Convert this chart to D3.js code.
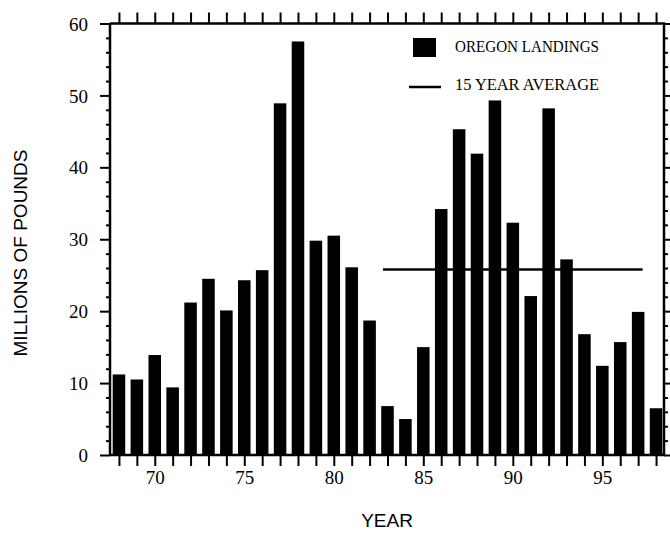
<!DOCTYPE html>
<html>
<head>
<meta charset="utf-8">
<script src="https://cdn.jsdelivr.net/npm/d3@7"></script>
<style>
  html, body { margin: 0; padding: 0; background: #fff; }
  svg { display: block; }
</style>
</head>
<body>
<svg id="chart" width="670" height="533"></svg>
<script>
// ---- Data ----
const years = [68,69,70,71,72,73,74,75,76,77,78,79,80,81,82,83,84,85,86,87,88,89,90,91,92,93,94,95,96,97,98];
const landings = [11.2,10.5,13.9,9.4,21.2,24.5,20.1,24.3,25.7,48.9,57.5,29.8,30.5,26.1,18.7,6.8,5.0,15.0,34.2,45.3,41.9,49.3,32.3,22.1,48.2,27.2,16.8,12.4,15.7,19.9,6.5];
const averageValue = [25.8];
const averageSpan = [82.75, 97.25];
const xTickLabels = [70, 75, 80, 85, 90, 95];
const yTickLabels = [0, 10, 20, 30, 40, 50, 60];
const legendLabels = ["OREGON LANDINGS", "15 YEAR AVERAGE"];

// ---- Layout ----
const svg = d3.select("#chart");
const L = 110, R = 664, T = 23.5, B = 455;
const x = d3.scaleLinear().domain([67.5, 98.5]).range([L, R + 1]);
const y = d3.scaleLinear().domain([0, 60]).range([B, T]);
const step = x(1) - x(0);
const bw = step * 0.7;

// Bars
svg.append("g").selectAll("rect").data(years).join("rect")
  .attr("x", (d) => x(d) - bw / 2)
  .attr("y", (d, i) => y(landings[i]))
  .attr("width", bw)
  .attr("height", (d, i) => y(0) - y(landings[i]))
  .attr("fill", "#000");

// Average line
svg.append("line")
  .attr("x1", x(averageSpan[0])).attr("x2", x(averageSpan[1]))
  .attr("y1", y(averageValue[0])).attr("y2", y(averageValue[0]))
  .attr("stroke", "#000").attr("stroke-width", 2.5);

// Frame
const frame = svg.append("g").attr("stroke", "#000").attr("fill", "none");
frame.append("line").attr("x1", L).attr("x2", L).attr("y1", T).attr("y2", B).attr("stroke-width", 2.5);
frame.append("line").attr("x1", R).attr("x2", R).attr("y1", T).attr("y2", B).attr("stroke-width", 2.5);
frame.append("line").attr("x1", L).attr("x2", R + 1).attr("y1", T).attr("y2", T).attr("stroke-width", 2.5);
frame.append("line").attr("x1", L).attr("x2", R + 1).attr("y1", B).attr("y2", B).attr("stroke-width", 2.5);

// Left axis (outward ticks)
const leftAxis = d3.axisLeft(y).tickValues(yTickLabels).tickSize(10).tickFormat(d3.format("d"));
const gl = svg.append("g").attr("transform", `translate(${L},0)`).call(leftAxis);
const leftMinor = d3.axisLeft(y).tickValues(d3.range(0, 61, 2).filter(v => v % 10 !== 0)).tickSize(4).tickFormat("");
const glm = svg.append("g").attr("transform", `translate(${L},0)`).call(leftMinor);

// Right axis
const rightAxis = d3.axisRight(y).tickValues(yTickLabels).tickSize(8).tickFormat("");
const gr = svg.append("g").attr("transform", `translate(${R},0)`).call(rightAxis);
const rightMinor = d3.axisRight(y).tickValues(d3.range(0, 61, 2).filter(v => v % 10 !== 0)).tickSize(4).tickFormat("");
const grm = svg.append("g").attr("transform", `translate(${R},0)`).call(rightMinor);

// Bottom axis
const bottomAxis = d3.axisBottom(x).tickValues(years).tickSize(11)
  .tickFormat(d => xTickLabels.includes(d) ? d : "");
const gb = svg.append("g").attr("transform", `translate(0,${B})`).call(bottomAxis);

// Top axis
const topAxis = d3.axisTop(x).tickValues(years).tickSize(11).tickFormat("");
const gt = svg.append("g").attr("transform", `translate(0,${T})`).call(topAxis);

[gl, glm, gr, grm, gb, gt].forEach(g => {
  g.select(".domain").remove();
  g.selectAll(".tick line").attr("stroke", "#000").attr("stroke-width", 2);
  g.selectAll("text").attr("fill", "#000")
    .style("font-family", "'Liberation Serif', 'Times New Roman', serif")
    .style("font-size", "19px");
});
gl.selectAll("text").attr("x", -22).attr("dy", "0.35em");
gb.selectAll("text").attr("y", 16).attr("dy", "0.71em");

// Axis titles
svg.append("text")
  .attr("x", (L + R) / 2).attr("y", 527)
  .attr("text-anchor", "middle")
  .style("font-family", "'Liberation Sans', Arial, sans-serif")
  .style("font-size", "19px")
  .text("YEAR");

svg.append("text")
  .attr("transform", "translate(27,253) rotate(-90)")
  .attr("text-anchor", "middle")
  .style("font-family", "'Liberation Sans', Arial, sans-serif")
  .style("font-size", "19px")
  .text("MILLIONS OF POUNDS");

// Legend
const lg = svg.append("g");
lg.append("rect").attr("x", 413).attr("y", 38).attr("width", 23).attr("height", 19).attr("fill", "#000");
lg.append("line").attr("x1", 409).attr("x2", 441).attr("y1", 87).attr("y2", 87)
  .attr("stroke", "#000").attr("stroke-width", 2.5);
lg.selectAll("text").data(legendLabels).join("text")
  .attr("x", 455)
  .attr("y", (d, i) => i === 0 ? 52 : 90)
  .attr("textLength", 144)
  .attr("lengthAdjust", "spacingAndGlyphs")
  .style("font-family", "'Liberation Serif', 'Times New Roman', serif")
  .style("font-size", "16px")
  .text(d => d);
</script>
</body>
</html>
